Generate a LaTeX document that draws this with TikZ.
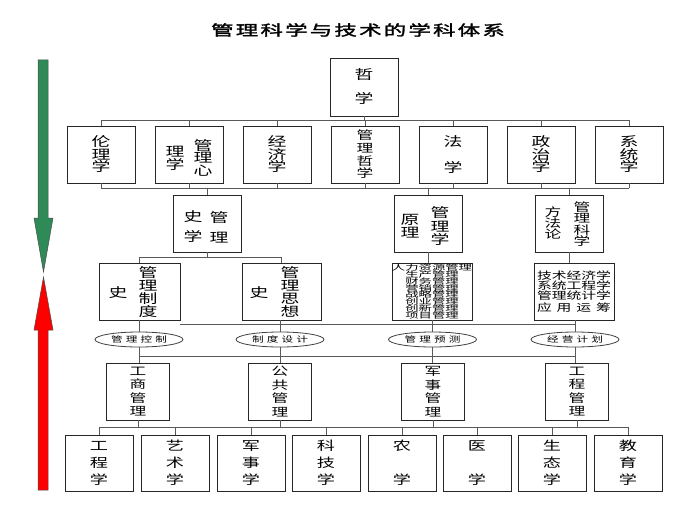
\documentclass[tikz,border=0pt]{standalone}
\usepackage{fontspec}
\setmainfont{Noto Sans CJK SC}[FakeStretch=1.45]
\newfontfamily\titlefont{Noto Sans CJK SC}[FakeStretch=1.55,FakeBold=2,LetterSpace=15]
\newfontfamily\ellfont{Noto Sans CJK SC}[FakeStretch=1.45,LetterSpace=39]
\usepackage{graphicx}
\usetikzlibrary{shapes.geometric}
\definecolor{arrgreen}{RGB}{46,139,87}
\definecolor{arrred}{RGB}{255,0,0}
\newcommand\cjkfs[2]{\fontsize{#1}{#2}\selectfont\lineskiplimit=-30pt\relax}
\begin{document}
\begin{tikzpicture}[x=1pt,y=-1pt,
  box/.style={draw=black!85, line width=0.9pt, inner sep=0pt, minimum width=68pt, minimum height=57pt, align=center},
  col/.style={inner sep=0pt, align=center},
  conn/.style={draw=black!65, line width=0.9pt},
  ell/.style={ellipse, draw=black!75, line width=0.8pt, inner sep=0pt, minimum width=88pt, minimum height=15pt, font=\ellfont\cjkfs{8}{8}},
  r2/.style={box, font=\cjkfs{13}{12.5}},
  r5/.style={box, minimum width=63pt, font=\cjkfs{11.5}{13.5}},
  r6/.style={box, minimum height=56pt, font=\cjkfs{12.5}{17}},
]
\useasboundingbox (0,0) rectangle (700,524);

% title
\node[anchor=west, inner sep=0pt, font=\titlefont\cjkfs{14.5}{14.5}] (title) at (211,30)
  {管理科学与技术的学科体系};

% arrows
\filldraw[fill=arrgreen, draw=black!70, line width=0.5pt]
  (38,60) -- (48,60) -- (48,218) -- (53,218) -- (43.5,272) -- (34,218) -- (38,218) -- cycle;
\filldraw[fill=arrred, draw=black!70, line width=0.5pt]
  (43.5,277) -- (53,330) -- (48,330) -- (48,490) -- (38,490) -- (38,330) -- (34,330) -- cycle;

% row 1
\node[box, minimum height=58pt, font=\cjkfs{13}{12}] (zx) at (364,87) {哲\\[12pt]学};

% row 2
\node[r2] (b21) at (101,154.5) {伦\\理\\学};
\node[box] (b22) at (189,154.5) {};
\node[col, font=\cjkfs{13}{12.5}] (t22a) at (203,157.5) {管\\理\\心};
\node[col, font=\cjkfs{13}{13}] (t22b) at (175,158.5) {理\\学};
\node[r2] (b23) at (277,154.5) {经\\济\\学};
\node[box, font=\cjkfs{11.5}{12.7}] (b24) at (365,154.5) {管\\理\\哲\\学};
\node[r2] (b25) at (453,154.5) {法\\[13.5pt]学};
\node[r2] (b26) at (541,154.5) {政\\治\\学};
\node[r2] (b27) at (629,154.5) {系\\统\\学};

% bus 1
\coordinate (bus1) at (0,120);
\draw[conn] (zx.south) -- (zx.south |- bus1);
\draw[conn] (b21.north |- bus1) -- (b27.north |- bus1);
\foreach \n in {b21,b22,b23,b24,b25,b26,b27}
  \draw[conn] (\n.north) -- (\n.north |- bus1);

% row 3
\node[box] (b31) at (207,223.5) {};
\node[col, font=\cjkfs{13}{13}] (t31a) at (219,227) {管\\[7pt]理};
\node[col, font=\cjkfs{13}{13}] (t31b) at (193,227) {史\\[7pt]学};
\node[box] (b32) at (428,223.5) {};
\node[col, font=\cjkfs{13}{13.5}] (t32a) at (440,226.5) {管\\理\\学};
\node[col, font=\cjkfs{13}{13}] (t32b) at (410,226.5) {原\\理};
\node[box] (b33) at (569,223.5) {};
\node[col, font=\cjkfs{11.5}{11.3}] (t33a) at (582,224) {管\\理\\科\\学};
\node[col, font=\cjkfs{11.5}{11}] (t33b) at (553,223) {方\\法\\论};

% bus 2
\coordinate (bus2) at (0,188);
\draw[conn] (b21.south |- bus2) -- (b27.south |- bus2);
\foreach \n in {b21,b22,b23,b24,b25,b26,b27}
  \draw[conn] (\n.south) -- (\n.south |- bus2);
\foreach \n in {b31,b32,b33}
  \draw[conn] (\n.north |- bus2) -- (\n.north);

% row 4
\node[box, minimum width=81pt] (b41) at (139.5,291.5) {};
\node[col, font=\cjkfs{13}{13}] (t41a) at (148,292) {管\\理\\制\\度};
\node[col, font=\cjkfs{13}{13}] (t41b) at (118,293) {史};
\node[box, minimum width=79pt] (b42) at (281.5,291.5) {};
\node[col, font=\cjkfs{13}{13}] (t42a) at (290,292) {管\\理\\思\\想};
\node[col, font=\cjkfs{13}{13}] (t42b) at (259,293) {史};
\node[box, minimum width=80pt] (b43) at (432,291.5)
  {\scalebox{1}[0.85]{\vbox{\cjkfs{9.2}{8}\halign{\hfil#\hfil\cr
   人力资源管理\cr 生产管理\cr 财务管理\cr 营销管理\cr 战略管理\cr 创业管理\cr 创新管理\cr 项目管理\cr}}}};
\node[box, minimum width=80pt] (b44) at (574,291.5)
  {\vbox{\cjkfs{10.2}{10}\halign{\hfil#\hfil\cr
   技术经济学\cr 系统工程学\cr 管理统计学\cr \noalign{\vskip 2pt}
   \makebox[74pt][s]{应\hfill 用\hfill 运\hfill 筹}\cr}}};

% bus 3
\coordinate (bus3) at (0,257);
\draw[conn] (b31.south) -- (b31.south |- bus3);
\draw[conn] (b41.north |- bus3) -- (b42.north |- bus3);
\draw[conn] (b41.north |- bus3) -- (b41.north);
\draw[conn] (b42.north |- bus3) -- (b42.north);
\draw[conn] (b32.south) -- (b32.south |- b43.north);
\draw[conn] (b33.south) -- (b33.south |- b44.north);

% ellipses
\node[ell] (e1) at (139,339.5) {管理控制};
\node[ell] (e2) at (280,339.5) {制度设计};
\node[ell] (e3) at (432.5,339.5) {管理预测};
\node[ell] (e4) at (575,339.5) {经营计划};

\coordinate (bus4) at (0,324);
\draw[conn] (b41.east |- bus4) -- (e4.north |- bus4);
\draw[conn] (e1.north) -- (e1.north |- b41.south);
\draw[conn] (e2.north) -- (e2.north |- b42.south);
\draw[conn] (e3.north) -- (e3.north |- b43.south);
\draw[conn] (e4.north) -- (e4.north |- b44.south);

% row 5
\node[r5] (b51) at (138,391.5) {工\\商\\管\\理};
\node[r5] (b52) at (280,391.5) {公\\共\\管\\理};
\node[r5] (b53) at (433,391.5) {军\\事\\管\\理};
\node[r5] (b54) at (577,391.5) {工\\程\\管\\理};

\coordinate (bus5) at (0,356);
\draw[conn] (e1.south |- bus5) -- (e4.south |- bus5);
\draw[conn] (e1.south) -- (e1.south |- b51.north);
\draw[conn] (e2.south) -- (e2.south |- b52.north);
\draw[conn] (e3.south) -- (e3.south |- b53.north);
\draw[conn] (e4.south) -- (e4.south |- b54.north);

% row 6
\node[r6] (b61) at (99,463) {工\\程\\学};
\node[r6] (b62) at (175,463) {艺\\术\\学};
\node[r6] (b63) at (251,463) {军\\事\\学};
\node[r6] (b64) at (326,463) {科\\技\\学};
\node[r6] (b65) at (402,463) {农\\[17pt]学};
\node[r6] (b66) at (477,463) {医\\[17pt]学};
\node[r6] (b67) at (552,463) {生\\态\\学};
\node[r6] (b68) at (628,463) {教\\育\\学};

\coordinate (bus6) at (0,427);
\draw[conn] (b61.north |- bus6) -- (b68.north |- bus6);
\foreach \n in {b51,b52,b53,b54}
  \draw[conn] (\n.south) -- (\n.south |- bus6);
\foreach \n in {b61,b62,b63,b64,b65,b66,b67,b68}
  \draw[conn] (\n.north |- bus6) -- (\n.north);
\end{tikzpicture}
\end{document}
